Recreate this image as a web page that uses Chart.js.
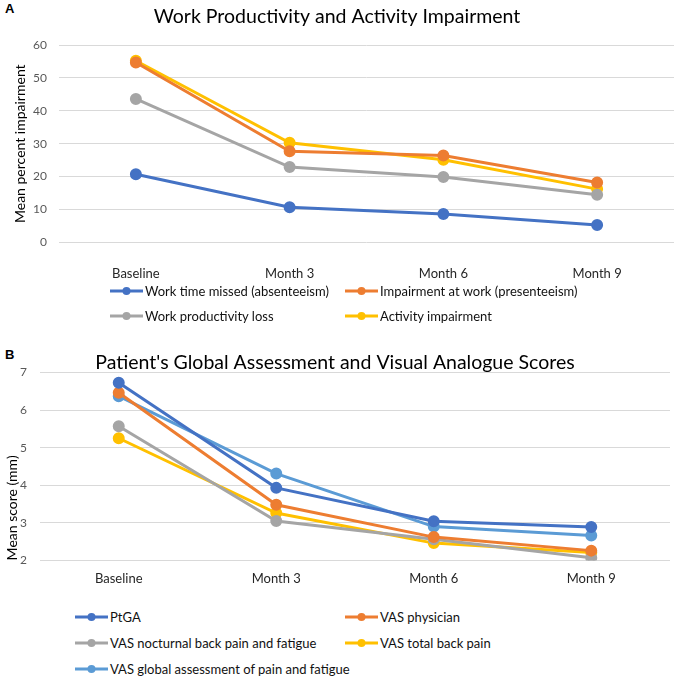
<!DOCTYPE html>
<html>
<head>
<meta charset="utf-8">
<script src="https://cdn.jsdelivr.net/npm/chart.js@4.4.1/dist/chart.umd.min.js"></script>
<style>
  body { margin: 0; background: #fff; font-family: Lato, sans-serif; }
  #wrap { position: relative; width: 685px; height: 678px; overflow: hidden; }
  .panel { position: absolute; left: 0; width: 685px; }
  .tag { position: absolute; left: 5px; font: bold 13px "Liberation Sans", Arial, sans-serif; color: #000; line-height: 14px; }
  .item { position: absolute; white-space: nowrap; display: flex; align-items: center; font-size: 13px; color: #111; line-height: 16px; transform: translateY(-50%); }
  .item canvas { margin-right: 2px; }
</style>
</head>
<body>
<div id="wrap">
  <div class="tag" style="top:2px">A</div>
  <div class="panel" style="top:0;height:309px"><canvas id="chartA"></canvas></div>
  <div id="legendA"></div>
  <div class="tag" style="top:348px">B</div>
  <div class="panel" style="top:340px;height:261px"><canvas id="chartB"></canvas></div>
  <div id="legendB"></div>
</div>
<script>
// --- data ---
var months = ['Baseline', 'Month 3', 'Month 6', 'Month 9'];

var wpaiNames = ['Work time missed (absenteeism)', 'Impairment at work (presenteeism)', 'Work productivity loss', 'Activity impairment'];
var absenteeism = [20.7, 10.7, 8.6, 5.3];
var presenteeism = [54.7, 27.7, 26.4, 18.2];
var productivityLoss = [43.6, 22.9, 19.9, 14.5];
var activityImpairment = [55.2, 30.3, 25.1, 16.2];

var scoreNames = ['PtGA', 'VAS physician', 'VAS nocturnal back pain and fatigue', 'VAS total back pain', 'VAS global assessment of pain and fatigue'];
var ptga = [6.73, 3.93, 3.04, 2.89];
var vasPhysician = [6.46, 3.48, 2.62, 2.26];
var vasNocturnal = [5.57, 3.05, 2.56, 2.07];
var vasTotal = [5.25, 3.26, 2.46, 2.21];
var vasGlobal = [6.37, 4.31, 2.90, 2.66];

var blue = '#4472C4', orange = '#ED7D31', grey = '#A5A5A5', yellow = '#FFC000', lightBlue = '#5B9BD5';

function line(label, data, color) {
    return {
        label: label,
        data: data,
        borderColor: color,
        backgroundColor: color,
        pointBackgroundColor: color,
        pointBorderColor: color,
        borderWidth: 3,
        pointRadius: 4.5,
        tension: 0
    };
}

function marker(color) {
    var c = document.createElement('canvas');
    c.width = 33; c.height = 12;
    var g = c.getContext('2d');
    g.strokeStyle = color; g.lineWidth = 3;
    g.beginPath(); g.moveTo(0, 6); g.lineTo(33, 6); g.stroke();
    g.fillStyle = color;
    g.beginPath(); g.arc(16.5, 6, 4, 0, Math.PI * 2); g.fill();
    return c;
}

function makeLegend(id, datasets, cols, rows) {
    var box = document.getElementById(id);
    datasets.forEach(function (ds, i) {
        var el = document.createElement('div');
        el.className = 'item';
        el.style.left = cols[i % 2] + 'px';
        el.style.top = rows[Math.floor(i / 2)] + 'px';
        el.appendChild(marker(ds.borderColor));
        el.appendChild(document.createTextNode(ds.label));
        box.appendChild(el);
    });
}

function options(title, yTitle, yMin, yMax, yWidth, yPad, titlePad, yTitleAlign, yTitlePad, layoutPad) {
    return {
        responsive: true,
        maintainAspectRatio: false,
        animation: false,
        layout: { padding: layoutPad },
        plugins: {
            legend: { display: false },
            tooltip: { enabled: false },
            title: {
                display: true,
                text: title,
                color: '#000',
                font: { family: 'Lato', size: 19.5, weight: 'normal', lineHeight: 1 },
                padding: titlePad
            }
        },
        scales: {
            x: {
                offset: true,
                grid: { display: false, drawTicks: false },
                border: { display: false },
                ticks: { color: '#262626', font: { family: 'Lato', size: 13 }, padding: yPad.x }
            },
            y: {
                min: yMin,
                max: yMax,
                afterFit: function (s) { s.width = yWidth; },
                grid: { color: '#d9d9d9', drawTicks: false },
                border: { display: false },
                ticks: { stepSize: yMin === 0 ? 10 : 1, color: '#595959', font: { family: 'Lato', size: 12 }, padding: yPad.y },
                title: {
                    display: true,
                    text: yTitle,
                    align: yTitleAlign,
                    color: '#000',
                    font: { family: 'Lato', size: 14 },
                    padding: yTitlePad
                }
            }
        }
    };
}

var setA = [
    line(wpaiNames[0], absenteeism, blue),
    line(wpaiNames[1], presenteeism, orange),
    line(wpaiNames[2], productivityLoss, grey),
    line(wpaiNames[3], activityImpairment, yellow)
];
var setB = [
    line(scoreNames[0], ptga, blue),
    line(scoreNames[1], vasPhysician, orange),
    line(scoreNames[2], vasNocturnal, grey),
    line(scoreNames[3], vasTotal, yellow),
    line(scoreNames[4], vasGlobal, lightBlue)
];

new Chart(document.getElementById('chartA'), {
    type: 'line',
    data: { labels: months, datasets: setA },
    options: options('Work Productivity and Activity Impairment', 'Mean percent impairment', 0, 60, 59,
        { x: 24, y: 12 }, { top: 7, bottom: 18.5 }, 'center', { top: 12, bottom: 0 },
        { top: 0, right: 11, bottom: 3, left: 0 })
});

new Chart(document.getElementById('chartB'), {
    type: 'line',
    data: { labels: months, datasets: setB },
    options: options("Patient's Global Assessment and Visual Analogue Scores", 'Mean score (mm)', 2, 7, 40,
        { x: 11, y: 13 }, { top: 13, bottom: 0 }, 'start', { top: 4, bottom: 0 },
        { top: 0, right: 15, bottom: 3, left: 0 })
});

makeLegend('legendA', setA, [110, 345], [291, 316]);
makeLegend('legendB', setB, [75, 345], [617, 643, 669]);
</script>
</body>
</html>
